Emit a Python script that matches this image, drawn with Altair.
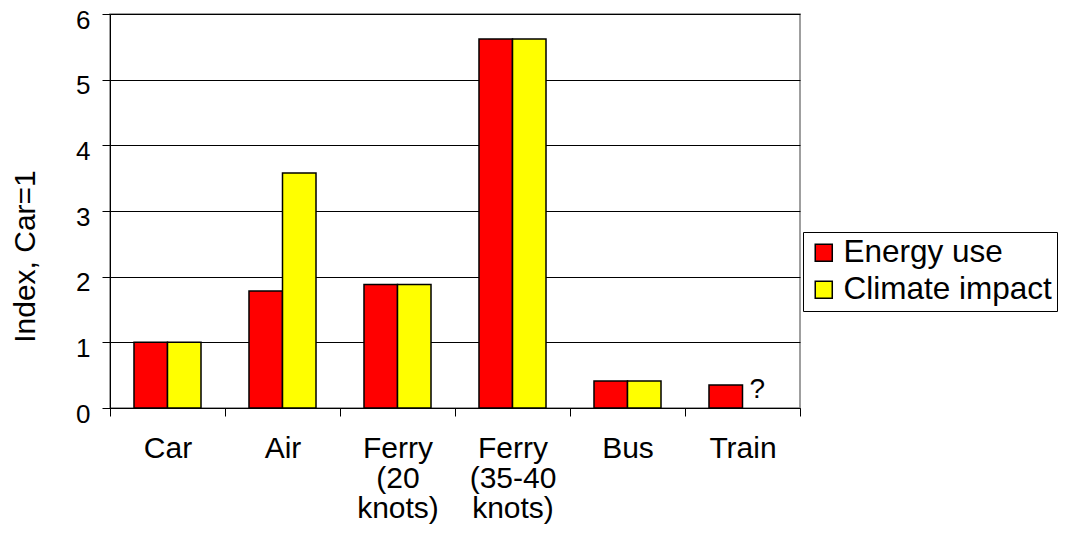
import altair as alt
import pandas as pd

categories = ["Car", "Air", "Ferry (20 knots)", "Ferry (35-40 knots)", "Bus", "Train"]
series = ["Energy use", "Climate impact"]
energy_use = [1.0, 1.78, 1.88, 5.62, 0.41, 0.35]
climate_impact = [1.0, 3.58, 1.88, 5.62, 0.41, None]
notes = ["", "", "", "", "", "?"]
colors = ["#FF0000", "#FFFF00"]

rows = []
for c, e, ci in zip(categories, energy_use, climate_impact):
    rows.append({"category": c, "series": "Energy use", "value": e})
    if ci is not None:
        rows.append({"category": c, "series": "Climate impact", "value": ci})
df = pd.DataFrame(rows)

note_rows = [
    {"category": c, "series": "Climate impact", "value": e, "note": n}
    for c, e, n in zip(categories, energy_use, notes) if n
]
notes_df = pd.DataFrame(note_rows)

FONT = "Liberation Sans"

x = alt.X(
    "category:N",
    sort=categories,
    scale=alt.Scale(paddingInner=0, paddingOuter=0),
    axis=alt.Axis(
        title=None,
        labelAngle=0,
        labelFont=FONT,
        labelFontSize=30,
        labelColor="black",
        labelExpr="split(datum.label, ' ')",
        labelLineHeight=30,
        labelPadding=17,
        labelBaseline="top",
        tickBand="extent",
        tickSize=8,
        tickColor="black",
        domainColor="black",
        grid=False,
    ),
)
xoff = alt.XOffset(
    "series:N",
    sort=series,
    scale=alt.Scale(paddingInner=0, paddingOuter=0.716),
)
y = alt.Y(
    "value:Q",
    scale=alt.Scale(domain=[0, 6], nice=False),
    axis=alt.Axis(
        title="Index, Car=1",
        titleFont=FONT,
        titleFontSize=30,
        titleFontWeight="normal",
        titleColor="black",
        titleX=-70,
        titleY=242,
        values=[0, 1, 2, 3, 4, 5, 6],
        format="d",
        labelFont=FONT,
        labelFontSize=26,
        labelColor="black",
        labelPadding=12,
        labelOffset=6,
        tickSize=8,
        tickColor="black",
        domainColor="black",
        grid=True,
        gridColor="black",
        gridWidth=1,
    ),
)

bars = alt.Chart(df).mark_bar(stroke="black", strokeWidth=1.5).encode(
    x=x,
    xOffset=xoff,
    y=y,
    color=alt.Color(
        "series:N",
        sort=series,
        scale=alt.Scale(domain=series, range=colors),
        legend=alt.Legend(
            title=None,
            orient="none",
            legendX=693,
            legendY=218,
            strokeColor="black",
            padding=5,
            symbolType="square",
            symbolSize=290,
            symbolStrokeColor="black",
            symbolStrokeWidth=1.5,
            labelFont=FONT,
            labelFontSize=31.5,
            labelColor="black",
            labelOffset=4,
            labelLimit=400,
            rowPadding=4,
        ),
    ),
)

text = alt.Chart(notes_df).mark_text(
    font=FONT, fontSize=28, color="black", baseline="middle", dy=5, dx=-2
).encode(
    x=alt.X("category:N", sort=categories),
    xOffset=alt.XOffset("series:N", sort=series),
    y=alt.Y("value:Q"),
    text="note:N",
)

chart = (
    alt.layer(bars, text)
    .properties(
        width=690,
        height=394,
        autosize=alt.AutoSizeParams(type="none"),
        padding={"left": 102, "top": 6, "right": 266, "bottom": 118},
    )
    .configure_view(stroke="#808080", strokeWidth=1.5)
)

chart.save("out.html", embed_options={"renderer": "svg", "actions": False})
